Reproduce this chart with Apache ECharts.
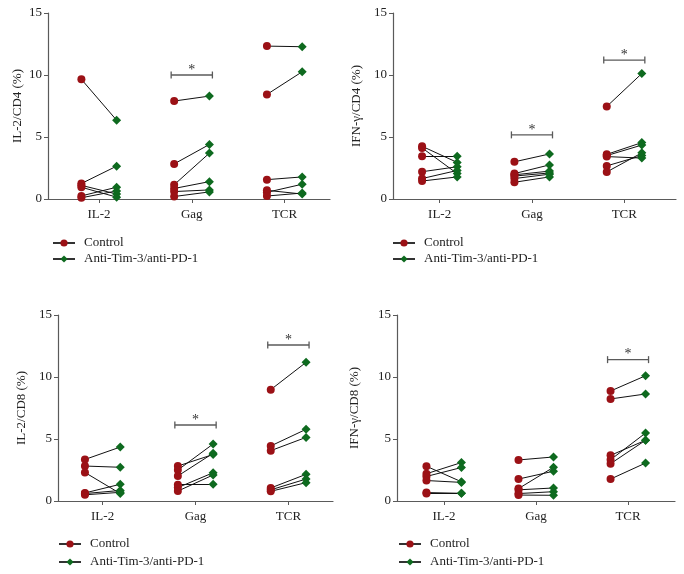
<!DOCTYPE html>
<html>
<head>
<meta charset="utf-8">
<script src="https://cdn.jsdelivr.net/npm/echarts@6/dist/echarts.min.js"></script>
<style>
html,body{margin:0;padding:0;background:#fff;}
#chart{width:684px;height:574px;}
</style>
</head>
<body>
<div id="chart"></div>
<script>
// ---- data ----
const categories = ['IL-2', 'Gag', 'TCR'];
const seriesNames = ['Control', 'Anti-Tim-3/anti-PD-1'];
const yTicks = [0, 5, 10, 15];

// Panel 1: IL-2/CD4 (%)
const il2cd4_ctrl_IL2 = [9.65, 1.25, 1.1, 0.95, 0.25, 0.1];
const il2cd4_trt_IL2  = [6.35, 2.65, 0.4, 0.15, 0.95, 0.65];
const il2cd4_ctrl_Gag = [7.9, 2.83, 1.15, 0.85, 0.6, 0.2];
const il2cd4_trt_Gag  = [8.3, 4.4, 3.7, 1.4, 0.73, 0.57];
const il2cd4_ctrl_TCR = [12.33, 8.43, 1.56, 0.54, 0.7, 0.24];
const il2cd4_trt_TCR  = [12.28, 10.26, 1.78, 1.19, 0.4, 0.48];
const il2cd4_sig = [[2, 10.0]];

// Panel 2: IFN-γ/CD4 (%)
const ifncd4_ctrl_IL2 = [4.25, 4.12, 3.45, 2.2, 1.65, 1.45];
const ifncd4_trt_IL2  = [2.95, 2.05, 3.45, 2.6, 2.3, 1.78];
const ifncd4_ctrl_Gag = [3.0, 2.05, 1.95, 1.85, 1.65, 1.35];
const ifncd4_trt_Gag  = [3.63, 2.75, 2.25, 2.1, 2.0, 1.78];
const ifncd4_ctrl_TCR = [7.46, 3.6, 3.5, 3.42, 2.67, 2.18];
const ifncd4_trt_TCR  = [10.12, 4.55, 4.35, 3.3, 3.5, 3.72];
const ifncd4_sig = [[2, 5.17], [3, 11.2]];

// Panel 3: IL-2/CD8 (%)
const il2cd8_ctrl_IL2 = [3.35, 2.82, 2.3, 0.65, 0.6, 0.5];
const il2cd8_trt_IL2  = [4.35, 2.72, 0.6, 1.35, 0.85, 0.7];
const il2cd8_ctrl_Gag = [2.82, 2.5, 2.02, 1.32, 1.08, 0.8];
const il2cd8_trt_Gag  = [3.75, 4.6, 3.85, 1.35, 2.28, 2.1];
const il2cd8_ctrl_TCR = [8.98, 4.44, 4.06, 1.05, 0.9, 0.78];
const il2cd8_trt_TCR  = [11.18, 5.78, 5.13, 2.15, 1.77, 1.48];
const il2cd8_sig = [[2, 6.13], [3, 12.58]];

// Panel 4: IFN-γ/CD8 (%)
const ifncd8_ctrl_IL2 = [2.8, 2.2, 1.98, 1.65, 0.68, 0.6];
const ifncd8_trt_IL2  = [1.55, 3.1, 2.7, 1.5, 0.62, 0.62];
const ifncd8_ctrl_Gag = [3.31, 1.77, 1.0, 0.9, 0.6, 0.48];
const ifncd8_trt_Gag  = [3.55, 2.4, 2.72, 1.05, 0.75, 0.46];
const ifncd8_ctrl_TCR = [8.87, 8.23, 3.68, 3.33, 3.01, 1.77];
const ifncd8_trt_TCR  = [10.1, 8.63, 4.9, 5.48, 4.9, 3.06];
const ifncd8_sig = [[3, 11.4]];

// ---- layout / style ----
const FONT = 'Liberation Serif';
const RED = '#9b1116';
const GREEN = '#0e6a1f';
const AXIS = '#5a5a5a';
const OFF = 0.19;

const panels = [
  {title: 'IL-2/CD4 (%)', ctrl: [il2cd4_ctrl_IL2, il2cd4_ctrl_Gag, il2cd4_ctrl_TCR], trt: [il2cd4_trt_IL2, il2cd4_trt_Gag, il2cd4_trt_TCR], sig: il2cd4_sig,
   left: 48, right: 354, top: 13, height: 186, xmin: 0.45, xmax: 3.49, nameGap: 24, lgLeft: 52, lgTop: 235, lgGap: 0},
  {title: 'IFN-γ/CD4 (%)', ctrl: [ifncd4_ctrl_IL2, ifncd4_ctrl_Gag, ifncd4_ctrl_TCR], trt: [ifncd4_trt_IL2, ifncd4_trt_Gag, ifncd4_trt_TCR], sig: ifncd4_sig,
   left: 393, right: 8, top: 13, height: 186, xmin: 0.495, xmax: 3.56, nameGap: 30, lgLeft: 392, lgTop: 235, lgGap: 0},
  {title: 'IL-2/CD8 (%)', ctrl: [il2cd8_ctrl_IL2, il2cd8_ctrl_Gag, il2cd8_ctrl_TCR], trt: [il2cd8_trt_IL2, il2cd8_trt_Gag, il2cd8_trt_TCR], sig: il2cd8_sig,
   left: 58, right: 351, top: 315, height: 186, xmin: 0.52, xmax: 3.48, nameGap: 30, lgLeft: 58, lgTop: 536, lgGap: 2},
  {title: 'IFN-γ/CD8 (%)', ctrl: [ifncd8_ctrl_IL2, ifncd8_ctrl_Gag, ifncd8_ctrl_TCR], trt: [ifncd8_trt_IL2, ifncd8_trt_Gag, ifncd8_trt_TCR], sig: ifncd8_sig,
   left: 397, right: 9, top: 315, height: 186, xmin: 0.49, xmax: 3.51, nameGap: 36, lgLeft: 398, lgTop: 536, lgGap: 2}
];

const grids = [], xAxes = [], yAxes = [], series = [], legends = [];

// legend proxy series (line + symbol icon)
series.push({type: 'line', name: seriesNames[0], xAxisIndex: 0, yAxisIndex: 0, data: [],
  symbol: 'circle', symbolSize: 7, itemStyle: {color: RED, opacity: 1}, lineStyle: {color: '#333', width: 1.5}});
series.push({type: 'line', name: seriesNames[1], xAxisIndex: 0, yAxisIndex: 0, data: [],
  symbol: 'diamond', symbolSize: 8, itemStyle: {color: GREEN, opacity: 1}, lineStyle: {color: '#333', width: 1.5}});

function renderBracket(params, api) {
  const c = api.value(0), y = api.value(1);
  const p1 = api.coord([c - OFF, y]);
  const p2 = api.coord([c + OFF, y]);
  const x1 = p1[0] - 3, x2 = p2[0] + 3, yy = p1[1];
  const st = {stroke: AXIS, lineWidth: 1.3};
  return {type: 'group', children: [
    {type: 'line', shape: {x1: x1, y1: yy, x2: x2, y2: yy}, style: st},
    {type: 'line', shape: {x1: x1, y1: yy - 3.5, x2: x1, y2: yy + 3.5}, style: st},
    {type: 'line', shape: {x1: x2, y1: yy - 3.5, x2: x2, y2: yy + 3.5}, style: st},
    {type: 'text', style: {text: '*', x: (x1 + x2) / 2, y: yy + 2, align: 'center', verticalAlign: 'bottom',
      font: '14px "' + FONT + '"', fill: '#333'}}
  ]};
}

panels.forEach((p, i) => {
  grids.push({left: p.left, right: p.right, top: p.top, height: p.height, containLabel: false});
  xAxes.push({type: 'value', gridIndex: i, min: p.xmin, max: p.xmax,
    axisLine: {show: true, onZero: false, lineStyle: {color: AXIS, width: 1.2}},
    axisTick: {show: true, customValues: [1, 2, 3], length: 4, lineStyle: {color: AXIS}},
    axisLabel: {customValues: [1, 2, 3], formatter: v => categories[Math.round(v) - 1],
      color: '#222', fontFamily: FONT, fontSize: 13, margin: 9},
    splitLine: {show: false}});
  yAxes.push({type: 'value', gridIndex: i, min: 0, max: 15, interval: 5,
    name: p.title, nameLocation: 'middle', nameGap: p.nameGap,
    nameTextStyle: {color: '#222', fontFamily: FONT, fontSize: 13},
    axisLine: {show: true, lineStyle: {color: AXIS, width: 1.2}},
    axisTick: {show: true, length: 4, lineStyle: {color: AXIS}},
    axisLabel: {formatter: v => (yTicks.indexOf(v) >= 0 ? String(v) : ''), color: '#222', fontFamily: FONT, fontSize: 13, margin: 6},
    splitLine: {show: false}});

  const links = [], ctrlPts = [], trtPts = [];
  categories.forEach((cat, ci) => {
    const cx = ci + 1;
    p.ctrl[ci].forEach((v, k) => {
      const w = p.trt[ci][k];
      ctrlPts.push([cx - OFF, v]);
      trtPts.push([cx + OFF, w]);
      links.push({coords: [[cx - OFF, v], [cx + OFF, w]]});
    });
  });
  series.push({type: 'lines', coordinateSystem: 'cartesian2d', xAxisIndex: i, yAxisIndex: i,
    data: links, lineStyle: {color: '#111', width: 1, opacity: 1}, z: 2, silent: true});
  series.push({type: 'scatter', name: seriesNames[0], xAxisIndex: i, yAxisIndex: i, data: ctrlPts,
    symbol: 'circle', symbolSize: 8, itemStyle: {color: RED, opacity: 1}, z: 3});
  series.push({type: 'scatter', name: seriesNames[1], xAxisIndex: i, yAxisIndex: i, data: trtPts,
    symbol: 'diamond', symbolSize: 9, itemStyle: {color: GREEN, opacity: 1}, z: 3});
  series.push({type: 'custom', xAxisIndex: i, yAxisIndex: i, data: p.sig, renderItem: renderBracket, z: 4, silent: true, clip: false});

  legends.push({data: seriesNames, orient: 'vertical', left: p.lgLeft, top: p.lgTop, padding: 0,
    itemWidth: 22, itemHeight: 9, itemGap: p.lgGap, selectedMode: false,
    textStyle: {color: '#222', fontFamily: FONT, fontSize: 13, lineHeight: 16, padding: [0, 0, 0, 4]}});
});

const chart = echarts.init(document.getElementById('chart'), null, {renderer: 'canvas'});
chart.setOption({
  animation: false,
  backgroundColor: '#fff',
  grid: grids,
  xAxis: xAxes,
  yAxis: yAxes,
  legend: legends,
  series: series
});
</script>
</body>
</html>
